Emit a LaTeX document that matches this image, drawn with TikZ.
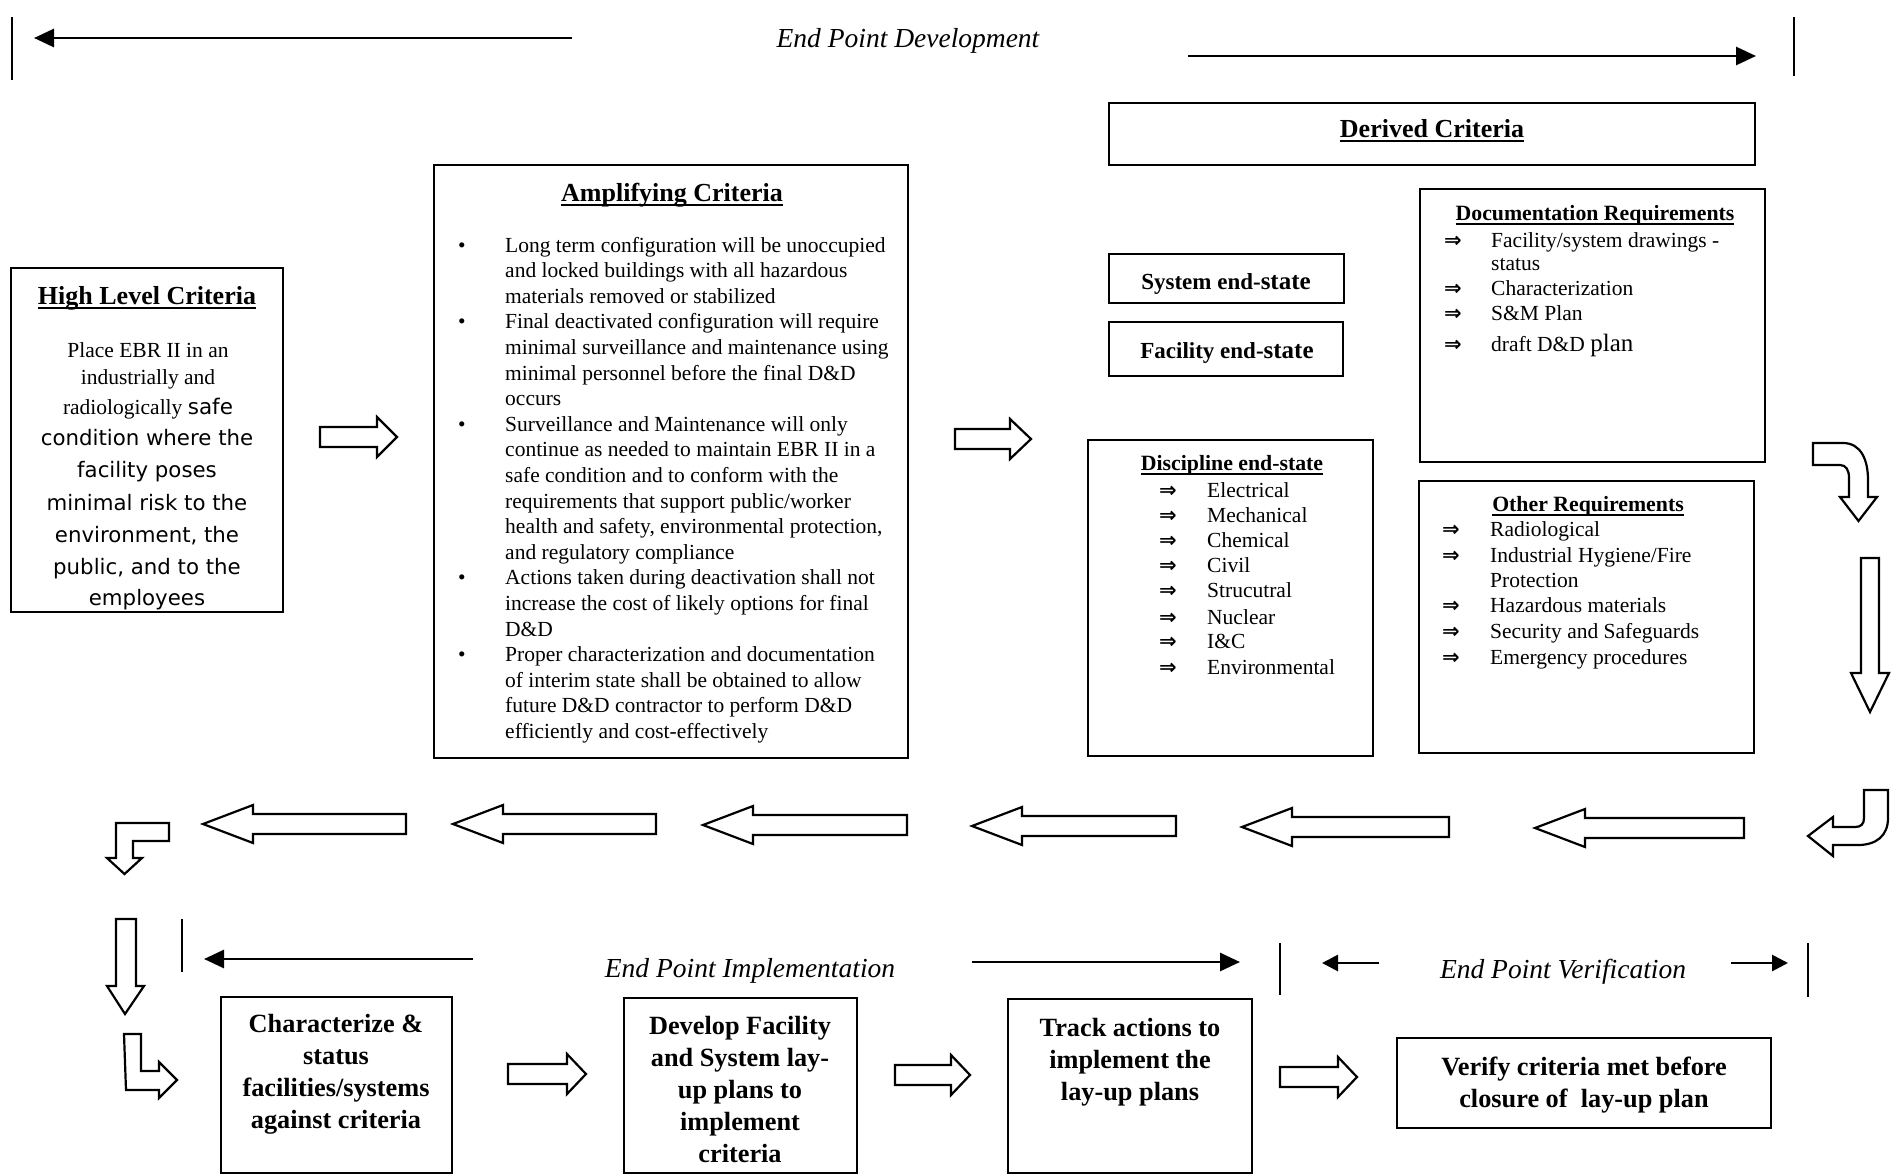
\documentclass[tikz,border=0pt]{standalone}
\usepackage{fontspec}
\setmainfont{Liberation Serif}
\newfontfamily\sansf{DejaVu Sans}
\usetikzlibrary{arrows.meta}
\newcommand\myul[1]{\setbox0\hbox{#1}\rlap{\rule[-5pt]{\wd0}{1.6pt}}\box0}
\newcommand\fTitle{\fontsize{26pt}{30pt}\selectfont\bfseries}
\newcommand\fSub{\fontsize{21.8pt}{25pt}\selectfont\bfseries}
\newcommand\fBody{\fontsize{21.5pt}{25pt}\selectfont}
\newcommand\fSans{\sansf\fontsize{21.3pt}{25pt}\selectfont}
\newcommand\fBig{\fontsize{26.3pt}{32pt}\selectfont\bfseries}
\newcommand\fLab{\fontsize{27.5pt}{32pt}\selectfont\itshape}
\newcommand\fArr{\sansf\bfseries\fontsize{21pt}{24pt}\selectfont}
\newcommand\dbl{⇒}
\newcommand\blkR[4]{\draw[blk] (#1,#3-10) -- (#2-#4,#3-10) -- (#2-#4,#3-20) -- (#2,#3) -- (#2-#4,#3+20) -- (#2-#4,#3+10) -- (#1,#3+10) -- cycle;}
\newcommand\blkL[3]{\draw[blk] (#1,#3) -- (#1+50,#3-19) -- (#1+50,#3-10) -- (#2,#3-10) -- (#2,#3+10) -- (#1+50,#3+10) -- (#1+50,#3+19) -- cycle;}
\begin{document}
\begin{tikzpicture}[x=1pt,y=-1pt,
  box/.style={draw, line width=2.2pt, inner sep=0pt},
  blk/.style={draw, line width=2.2pt, fill=white, line join=miter},
  tl/.style={inner sep=0pt, anchor=base west},
  tc/.style={inner sep=0pt, anchor=base},
  bar/.style={line width=1.8pt},
  tarr/.style={line width=2.8pt, -{Triangle[length=20pt,width=18pt]}},
  sarr/.style={line width=2.8pt, -{Triangle[length=16pt,width=16pt]}}]
\useasboundingbox (0,0) rectangle (1901,1175);

% ---------- top timeline ----------
\coordinate (b1t) at (12,17); \coordinate (b1b) at (12,80);
\coordinate (b2t) at (1794,17); \coordinate (b2b) at (1794,76);
\draw[bar] (b1t) -- (b1b);
\draw[bar] (b2t) -- (b2b);
\coordinate (t1s) at (572,38); \coordinate (t1e) at (34,38);
\coordinate (t2s) at (1188,56); \coordinate (t2e) at (1756,56);
\draw[tarr] (t1s) -- (t1e);
\draw[tarr] (t2s) -- (t2e);
\node[tc,font=\fLab] (epd) at (908,47) {End Point Development};

% ---------- boxes ----------
\node[box, minimum width=646pt, minimum height=62pt] (derived) at (1432,134) {};
\node[box, minimum width=272pt, minimum height=344pt] (hl) at (147,440) {};
\node[box, minimum width=474pt, minimum height=593pt] (amp) at (671,461.5) {};
\node[box, minimum width=235pt, minimum height=49pt] (sys) at (1226.5,278.5) {};
\node[box, minimum width=234pt, minimum height=54pt] (fac) at (1226,349) {};
\node[box, minimum width=345pt, minimum height=273pt] (doc) at (1592.5,325.5) {};
\node[box, minimum width=285pt, minimum height=316pt] (disc) at (1230.5,598) {};
\node[box, minimum width=335pt, minimum height=272pt] (oth) at (1586.5,617) {};
\node[box, minimum width=231pt, minimum height=176pt] (char) at (336.5,1085) {};
\node[box, minimum width=233pt, minimum height=175pt] (dev) at (740.5,1085.5) {};
\node[box, minimum width=244pt, minimum height=174pt] (track) at (1130,1086) {};
\node[box, minimum width=374pt, minimum height=90pt] (verify) at (1584,1083) {};

% ---------- titles ----------
\node[tc,font=\fTitle] (derivedT) at (1432,137) {\myul{Derived Criteria}};
\node[tc,font=\fTitle] (hlT) at (147,304) {\myul{High Level Criteria}};
\node[tc,font=\fTitle] (ampT) at (672,201) {\myul{Amplifying Criteria}};
\node[tc,font=\fSub] (docT) at (1595,220) {\myul{Documentation Requirements}};
\node[tc,font=\fSub] (discT) at (1232,470) {\myul{Discipline end-state}};
\node[tc,font=\fSub] (othT) at (1588,511) {\myul{Other Requirements}};
\node[tc,font=\fontsize{23pt}{26pt}\selectfont\bfseries] (sysT) at (1226,289) {System end-{\fontsize{25pt}{26pt}\selectfont state}};
\node[tc,font=\fontsize{23pt}{26pt}\selectfont\bfseries] (facT) at (1227,358) {Facility end-{\fontsize{25pt}{26pt}\selectfont state}};

% ---------- high level body ----------
\node[tc,font=\fBody] (hl1) at (148,357) {Place EBR II in an};
\node[tc,font=\fBody] (hl2) at (148,384) {industrially and};
\node[tc,font=\fBody] (hl3) at (148,414) {radiologically {\sansf safe}};
\node[tc,font=\fSans] (hl4) at (147,445) {condition where the};
\node[tc,font=\fSans] (hl5) at (147,477) {facility poses};
\node[tc,font=\fSans] (hl6) at (147,510) {minimal risk to the};
\node[tc,font=\fSans] (hl7) at (147,542) {environment, the};
\node[tc,font=\fSans] (hl8) at (147,574) {public, and to the};
\node[tc,font=\fSans] (hl9) at (147,605) {employees};

% ---------- amplifying body ----------
\foreach \t [count=\i] in {Long term configuration will be unoccupied,
  and locked buildings with all hazardous,
  materials removed or stabilized,
  Final deactivated configuration will require,
  minimal surveillance and maintenance using,
  minimal personnel before the final D\&D,
  occurs,
  Surveillance and Maintenance will only,
  continue as needed to maintain EBR II in a,
  safe condition and to conform with the,
  requirements that support public/worker,
  {health and safety, environmental protection,},
  and regulatory compliance,
  Actions taken during deactivation shall not,
  increase the cost of likely options for final,
  D\&D,
  Proper characterization and documentation,
  of interim state shall be obtained to allow,
  future D\&D contractor to perform D\&D,
  efficiently and cost-effectively}
  \node[tl,font=\fBody] (amp\i) at (505,{252+25.6*(\i-1)}) {\t};
\foreach \i in {1,4,8,14,17}
  \node[tc,font=\fBody] (bul\i) at (462,{252+25.6*(\i-1)}) {\textbullet};

% ---------- documentation ----------
\foreach \y/\t [count=\i] in {247/{Facility/system drawings -},295/{Characterization},320/{S\&M Plan},351/{draft D\&D {\fontsize{25pt}{26pt}\selectfont plan}}} {
  \node[tc,font=\fArr] (docA\i) at (1453,\y) {\dbl};
  \node[tl,font=\fBody] (doc\i) at (1491,\y) {\t};
}
\node[tl,font=\fBody] (docS) at (1491,270) {status};

% ---------- discipline ----------
\foreach \y/\t [count=\i] in {497/Electrical,522/Mechanical,547/Chemical,572/Civil,597/Strucutral,624/Nuclear,648/I\&C,674/Environmental} {
  \node[tc,font=\fArr] (discA\i) at (1168,\y) {\dbl};
  \node[tl,font=\fBody] (disc\i) at (1207,\y) {\t};
}

% ---------- other ----------
\foreach \y/\t [count=\i] in {536/{Radiological},562/{Industrial Hygiene/Fire},612/{Hazardous materials},638/{Security and Safeguards},664/{Emergency procedures}} {
  \node[tc,font=\fArr] (othA\i) at (1451,\y) {\dbl};
  \node[tl,font=\fBody] (oth\i) at (1490,\y) {\t};
}
\node[tl,font=\fBody] (othP) at (1490,587) {Protection};

% ---------- bottom boxes text ----------
\foreach \t [count=\i] in {Characterize \&,status,facilities/systems,against criteria}
  \node[tc,font=\fBig] (char\i) at (336,{1032+32*(\i-1)}) {\t};
\foreach \t [count=\i] in {Develop Facility,and System lay-,up plans to,implement,criteria}
  \node[tc,font=\fBig] (dev\i) at (740,{1034+32*(\i-1)}) {\t};
\foreach \t [count=\i] in {Track actions to,implement the,lay-up plans}
  \node[tc,font=\fBig] (track\i) at (1130,{1036+32*(\i-1)}) {\t};
\node[tc,font=\fBig] (ver1) at (1584,1075) {Verify criteria met before};
\node[tc,font=\fBig] (ver2) at (1584,1107) {closure of~ lay-up plan};

% ---------- bottom timeline ----------
\coordinate (b3t) at (182,919); \coordinate (b3b) at (182,972);
\coordinate (b4t) at (1280,943); \coordinate (b4b) at (1280,995);
\coordinate (b5t) at (1808,943); \coordinate (b5b) at (1808,997);
\draw[bar] (b3t) -- (b3b);
\draw[bar] (b4t) -- (b4b);
\draw[bar] (b5t) -- (b5b);
\coordinate (i1s) at (473,959); \coordinate (i1e) at (204,959);
\coordinate (i2s) at (972,962); \coordinate (i2e) at (1240,962);
\coordinate (v1s) at (1379,963); \coordinate (v1e) at (1322,963);
\coordinate (v2s) at (1731,963); \coordinate (v2e) at (1788,963);
\draw[tarr] (i1s) -- (i1e);
\draw[tarr] (i2s) -- (i2e);
\draw[sarr] (v1s) -- (v1e);
\draw[sarr] (v2s) -- (v2e);
\node[tc,font=\fLab] (epi) at (750,977) {End Point Implementation};
\node[tc,font=\fLab] (epv) at (1563,978) {End Point Verification};

% ---------- block arrows ----------
\blkR{320}{397}{437}{20}
\blkR{955}{1031}{439}{21}
\blkR{508}{586}{1074}{19}
\blkR{895}{970}{1075}{19}
\blkR{1280}{1357}{1077}{19}
\blkL{203}{406}{824}
\blkL{453}{656}{824}
\blkL{703}{907}{825}
\blkL{972}{1176}{826}
\blkL{1242}{1449}{827}
\blkL{1535}{1744}{828}
% curved arrow top right
\draw[blk] (1813,443) -- (1843,443) .. controls (1861,443) and (1868,460) .. (1868,480) -- (1868,497) -- (1877,497) -- (1858.5,521) -- (1840,497) -- (1849,497) -- (1849,478) .. controls (1849,470) and (1846,465) .. (1840,465) -- (1813,465) -- cycle;
% down arrow right
\draw[blk] (1861,558) -- (1879,558) -- (1879,673) -- (1889,673) -- (1870,712) -- (1851,673) -- (1861,673) -- cycle;
% hook arrow
\draw[blk] (1864,790) -- (1888,790) -- (1888,818) .. controls (1888,836) and (1876,845) .. (1858,845) -- (1833,845) -- (1833,856) -- (1808,836) -- (1833,817) -- (1833,827) -- (1855,827) .. controls (1861,827) and (1864,824) .. (1864,818) -- cycle;
% L arrow left
\draw[blk] (116,823) -- (169,823) -- (169,841) -- (133,841) -- (133,858) -- (142,858) -- (124.5,874) -- (107,858) -- (116,858) -- cycle;
% down arrow left
\draw[blk] (116,919) -- (136,919) -- (136,986) -- (144,986) -- (125,1014) -- (107,986) -- (116,986) -- cycle;
% L arrow bottom
\draw[blk] (124,1034) -- (141,1034) -- (141,1071) -- (159,1071) -- (159,1062) -- (177,1080) -- (159,1098) -- (159,1090) -- (126,1090) -- cycle;
\end{tikzpicture}
\end{document}
